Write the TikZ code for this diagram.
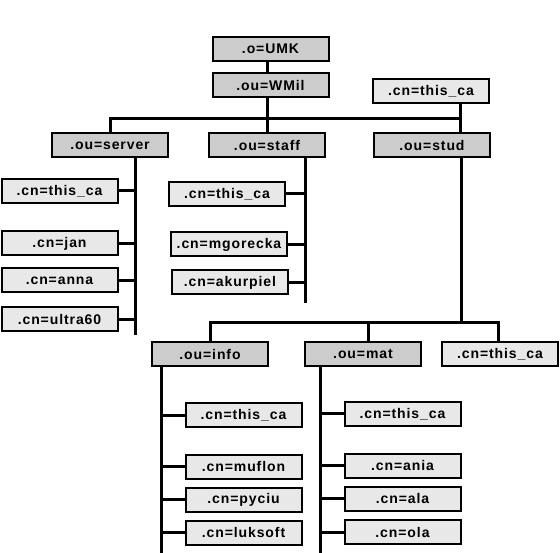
\documentclass[tikz,border=0pt]{standalone}
\usepackage{fontspec}
\setmainfont{Liberation Sans}[LetterSpace=6.5]
\definecolor{oufill}{HTML}{CCCCCC}
\definecolor{cnfill}{HTML}{E8E8E8}
\begin{document}
\begin{tikzpicture}[x=1pt,y=-1pt,
  box/.style={draw=black, line width=2pt, minimum width=116pt, minimum height=24pt,
    inner sep=0pt, font=\fontsize{14}{16}\selectfont\bfseries},
  ou/.style={box, fill=oufill},
  cn/.style={box, fill=cnfill},
  conn/.style={line width=3pt}]
\useasboundingbox (0,0) rectangle (560,553);
% nodes
\node[ou] (umk) at (270.5,49) {.o=UMK};
\node[ou] (wmil) at (270.5,85.5) {.ou=WMil};
\node[cn] (topca) at (431,91) {.cn=this\_ca};
\node[ou] (server) at (110,145.5) {.ou=server};
\node[ou] (staff) at (267,145.5) {.ou=staff};
\node[ou] (stud) at (432,145.5) {.ou=stud};
\node[cn] (s1) at (59.5,191) {.cn=this\_ca};
\node[cn] (s2) at (59.5,243.5) {.cn=jan};
\node[cn] (s3) at (59.5,280.5) {.cn=anna};
\node[cn] (s4) at (59.5,319.5) {.cn=ultra60};
\node[cn] (t1) at (227,194) {.cn=this\_ca};
\node[cn] (t2) at (229,244.5) {.cn=mgorecka};
\node[cn] (t3) at (230,282.5) {.cn=akurpiel};
\node[ou] (info) at (210,354.5) {.ou=info};
\node[ou] (mat) at (363,354.5) {.ou=mat};
\node[cn] (studca) at (500,354.5) {.cn=this\_ca};
\node[cn] (i1) at (243.5,415.5) {.cn=this\_ca};
\node[cn] (i2) at (243.5,466.5) {.cn=muflon};
\node[cn] (i3) at (243.5,499.5) {.cn=pyciu};
\node[cn] (i4) at (243.5,532.5) {.cn=luksoft};
\node[cn] (m1) at (402.5,414) {.cn=this\_ca};
\node[cn] (m2) at (402.5,465.5) {.cn=ania};
\node[cn] (m3) at (402.5,498.5) {.cn=ala};
\node[cn] (m4) at (402.5,532) {.cn=ola};
% coordinates
\coordinate (j1) at (460,119);
\coordinate (sv) at (135,335);
\coordinate (tv) at (305,303);
\coordinate (j2) at (461,323);
\coordinate (md) at (368,323);
\coordinate (sd) at (498,323);
\coordinate (iv) at (161,553);
\coordinate (mv) at (320,553);
% top connectors
\draw[conn] (umk.south -| staff.north) -- (wmil.north -| staff.north);
\draw[conn] (wmil.south -| staff.north) -- (staff.north);
\draw[conn] (server.north) |- (j1);
\draw[conn] (topca.south -| j1) -- (stud.north -| j1);
% server children
\draw[conn] (server.south -| sv) -- (sv);
\foreach \n in {s1,s2,s3,s4} \draw[conn] (\n.east) -- (\n.east -| sv);
% staff children
\draw[conn] (staff.south -| tv) -- (tv);
\foreach \n in {t1,t2,t3} \draw[conn] (\n.east) -- (\n.east -| tv);
% stud children
\draw[conn] (stud.south -| j2) -- (j2);
\draw[conn] (info.north) |- (sd) -- (studca.north -| sd);
\draw[conn] (mat.north -| md) -- (md);
% info children
\draw[conn] (info.south -| iv) -- (iv);
\foreach \n in {i1,i2,i3,i4} \draw[conn] (\n.west) -- (\n.west -| iv);
% mat children
\draw[conn] (mat.south -| mv) -- (mv);
\foreach \n in {m1,m2,m3,m4} \draw[conn] (\n.west) -- (\n.west -| mv);
\end{tikzpicture}
\end{document}
